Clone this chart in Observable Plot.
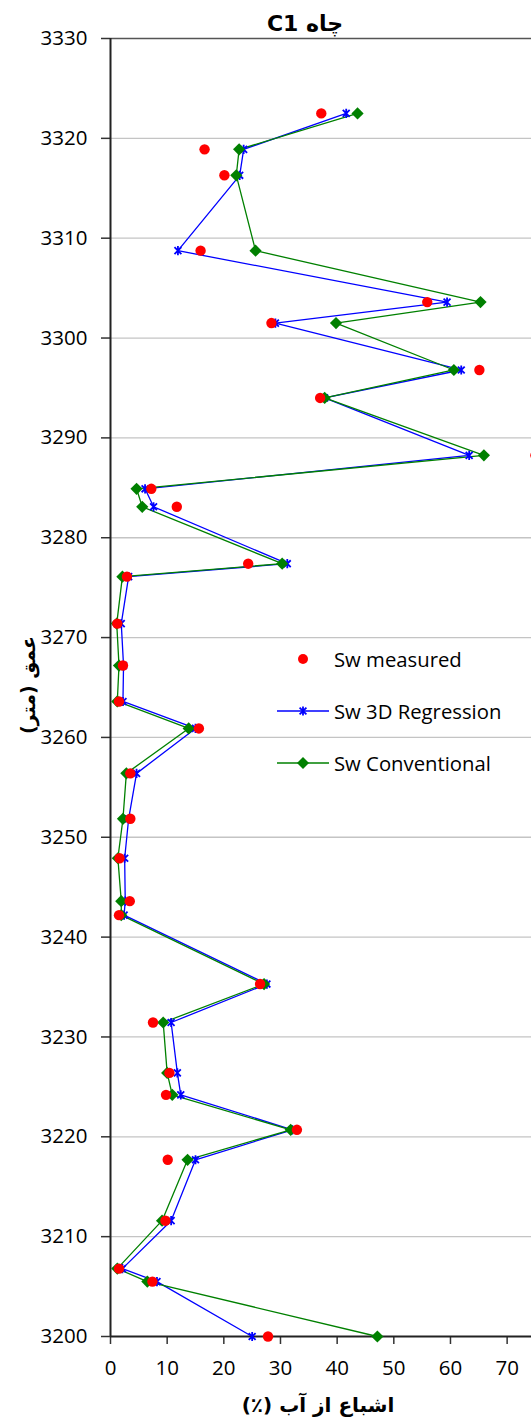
<!DOCTYPE html>
<html><head><meta charset="utf-8">
<script src="https://cdn.jsdelivr.net/npm/d3@7"></script>
<script src="https://cdn.jsdelivr.net/npm/@observablehq/plot@0.6"></script>
<style>
html,body{margin:0;padding:0;background:#fff;overflow:hidden;}
#wrap{position:relative;width:531px;height:1423px;overflow:hidden;font-family:"Open Sans","DejaVu Sans",sans-serif;color:#000;}
.lbl{position:absolute;white-space:nowrap;}
.title{left:305px;top:23px;transform:translate(-50%,-50%);font-weight:bold;font-size:22px;font-family:"DejaVu Sans","Open Sans",sans-serif;}
.xtitle{left:318px;top:1405px;transform:translate(-50%,-50%);font-weight:bold;font-size:20px;font-family:"DejaVu Sans",sans-serif;}
.ytitle{left:28px;top:685px;transform:translate(-50%,-50%) rotate(-90deg);font-weight:bold;font-size:19px;font-family:"DejaVu Sans",sans-serif;}
.leg{position:absolute;left:277px;display:flex;align-items:center;font-size:20.3px;transform:translateY(-50%);}
.leg svg{display:block;margin-right:5px;}
</style></head><body><div id="wrap"></div>
<script>
// depth (m)
const depth = [3322.5, 3318.9, 3316.3, 3308.75, 3303.6, 3301.5, 3296.8, 3294.0, 3288.25, 3284.9, 3283.1, 3277.4, 3276.1, 3271.4, 3267.2, 3263.6, 3260.9, 3256.4, 3251.85, 3247.9, 3243.6, 3242.2, 3235.3, 3231.45, 3226.4, 3224.2, 3220.7, 3217.7, 3211.6, 3206.8, 3205.5, 3200];
// Sw measured (%)
const swMeasured = [37.2, 16.6, 20.1, 15.9, 55.9, 28.4, 65.1, 37.0, 75.0, 7.2, 11.7, 24.3, 2.9, 1.2, 2.2, 1.5, 15.6, 3.5, 3.5, 1.6, 3.4, 1.5, 26.4, 7.5, 10.4, 9.8, 32.9, 10.1, 9.7, 1.5, 7.4, 27.8];
// Sw 3D Regression (%)
const swRegression = [41.6, 23.5, 22.8, 11.9, 59.4, 29.1, 61.9, 37.8, 63.3, 6.1, 7.6, 31.2, 3.2, 1.9, 2.3, 2.2, 15.0, 4.6, 3.2, 2.5, 2.6, 2.4, 27.6, 10.7, 11.8, 12.4, 32.1, 15.0, 10.7, 2.1, 8.2, 25.0];
// Sw Conventional (%)
const swConventional = [43.6, 22.7, 22.2, 25.6, 65.3, 39.8, 60.6, 37.8, 65.9, 4.6, 5.6, 30.3, 2.1, 1.1, 1.5, 1.2, 13.8, 2.8, 2.2, 1.3, 1.9, 1.9, 27.1, 9.3, 10.0, 10.9, 31.8, 13.6, 9.1, 1.2, 6.5, 47.1];
const xTicks = [0, 10, 20, 30, 40, 50, 60, 70];
const yTicks = [3200, 3210, 3220, 3230, 3240, 3250, 3260, 3270, 3280, 3290, 3300, 3310, 3320, 3330];
const seriesNames = ["Sw measured", "Sw 3D Regression", "Sw Conventional"];
const titleText = "چاه C1";
const xTitle = "اشباع از آب (٪)";
const yTitle = "عمق (متر)";

const rows = depth.map((d, i) => ({depth: d, meas: swMeasured[i], reg: swRegression[i], conv: swConventional[i]}));

const star = {draw(ctx, size) {
  const r = Math.sqrt(size / Math.PI); const d = r * 0.75;
  ctx.moveTo(-d, -d); ctx.lineTo(d, d);
  ctx.moveTo(d, -d); ctx.lineTo(-d, d);
  ctx.moveTo(0, -r); ctx.lineTo(0, r);
}};

const chart = Plot.plot({
  width: 531, height: 1423,
  marginLeft: 110, marginRight: 0, marginTop: 38, marginBottom: 87,
  x: {domain: [0, 74.3]},
  y: {domain: [3200, 3330]},
  style: {fontFamily: '"Open Sans", sans-serif', fontSize: "20.5px", color: "#000", background: "#fff", overflow: "hidden"},
  marks: [
    Plot.ruleY(yTicks.filter(t => t > 3200 && t < 3330), {stroke: "#c4c4c4", strokeWidth: 1.3}),
    Plot.ruleY([3330], {stroke: "#555", strokeWidth: 1.5}),
    Plot.axisY({ticks: yTicks, tickSize: 9, tickPadding: 14, label: null, tickFormat: d => String(d), strokeWidth: 1.5, stroke: "#333"}),
    Plot.axisX({ticks: xTicks, tickSize: 8, tickPadding: 16, label: null, tickFormat: d => String(d), strokeWidth: 1.5, stroke: "#333"}),
    Plot.ruleX([0], {stroke: "#222", strokeWidth: 2}),
    Plot.ruleY([3200], {stroke: "#222", strokeWidth: 2}),
    Plot.line(rows, {x: "reg", y: "depth", stroke: "#0000ff", strokeWidth: 1.3}),
    Plot.line(rows, {x: "conv", y: "depth", stroke: "#008000", strokeWidth: 1.3}),
    Plot.dot(rows, {x: "reg", y: "depth", symbol: star, r: 4.6, fill: "none", stroke: "#0000ff", strokeWidth: 1.8}),
    Plot.dot(rows, {x: "conv", y: "depth", symbol: "diamond2", r: 5.5, fill: "#008000", stroke: "none"}),
    Plot.dot(rows, {x: "meas", y: "depth", r: 5.2, fill: "#ff0000", stroke: "none"})
  ]
});

const wrap = document.getElementById("wrap");
wrap.appendChild(chart);

function addLabel(cls, text) {
  const el = document.createElement("div");
  el.className = "lbl " + cls; el.dir = "rtl"; el.textContent = text;
  wrap.appendChild(el);
}
addLabel("title", titleText);
addLabel("xtitle", xTitle);
addLabel("ytitle", yTitle);

const legTops = [659, 711, 763];
const legSvgs = [
  '<svg width="52" height="14"><circle cx="26" cy="7" r="5" fill="#ff0000"/></svg>',
  '<svg width="52" height="14"><line x1="0" y1="7" x2="52" y2="7" stroke="#0000ff" stroke-width="1.3"/><path d="M22.6,3.6L29.4,10.4M29.4,3.6L22.6,10.4M26,2.5L26,11.5" stroke="#0000ff" stroke-width="1.8" fill="none"/></svg>',
  '<svg width="52" height="14"><line x1="0" y1="7" x2="52" y2="7" stroke="#008000" stroke-width="1.3"/><path d="M26,1L32,7L26,13L20,7Z" fill="#008000"/></svg>'
];
seriesNames.forEach((name, i) => {
  const el = document.createElement("div");
  el.className = "leg"; el.style.top = legTops[i] + "px";
  el.innerHTML = legSvgs[i] + "<span></span>";
  el.querySelector("span").textContent = name;
  wrap.appendChild(el);
});
</script></body></html>
